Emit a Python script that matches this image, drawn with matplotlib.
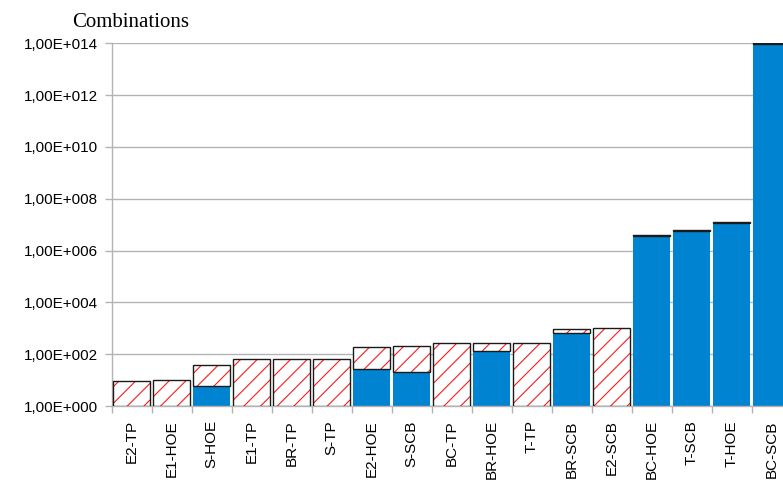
import numpy as np
import matplotlib
matplotlib.use("Agg")
import matplotlib.pyplot as plt
from matplotlib.ticker import FixedLocator, FuncFormatter

# Configurations, ordered by number of combinations
categories = ["E2-TP", "E1-HOE", "S-HOE", "E1-TP", "BR-TP", "S-TP", "E2-HOE",
              "S-SCB", "BC-TP", "BR-HOE", "T-TP", "BR-SCB", "E2-SCB",
              "BC-HOE", "T-SCB", "T-HOE", "BC-SCB"]
# Valid combinations (solid part, 0 = none)
valid = [0, 0, 6, 0, 0, 0, 28, 20, 0, 136, 0, 640, 0,
         3.7e6, 5.7e6, 1.15e7, 9.5e13]
# All combinations (top of the hatched part)
total = [9, 10, 37, 64, 64, 64, 194, 200, 260, 260, 260, 910, 1050,
         4.0e6, 6.1e6, 1.25e7, 1.0e14]
y_ticks = [10.0 ** e for e in range(0, 15, 2)]

valid = np.array(valid, dtype=float)
total = np.array(total, dtype=float)
x = np.arange(len(categories))
bottom = np.where(valid > 0, valid, 1.0)

W, H, DPI = 783, 484, 100
plt.rcParams["font.family"] = ["Liberation Sans", "DejaVu Sans"]
plt.rcParams["hatch.linewidth"] = 0.8

fig = plt.figure(figsize=(W / DPI, H / DPI), dpi=DPI)
left_px, right_px, top_px, bottom_px = 111.7, 791.7, 43.3, 406.0
ax = fig.add_axes([left_px / W, (H - bottom_px) / H,
                   (right_px - left_px) / W, (bottom_px - top_px) / H])

grey = "#b3b3b3"
bw = 0.925

ax.set_yscale("log")
ax.set_ylim(1, 1e14)
ax.set_xlim(-0.5, len(categories) - 0.5)
ax.set_axisbelow(True)
ax.yaxis.grid(True, color=grey, linewidth=1.0)

# solid part
mask = valid > 0
ax.bar(x[mask], valid[mask], width=bw, color="#0084d1", linewidth=0, zorder=2)
# hatched remainder, stacked on top of the solid part
ax.bar(x, total - bottom, bottom=bottom, width=bw, facecolor="white",
       edgecolor="#ff1a1a", hatch="//", linewidth=0, zorder=3)
ax.bar(x, total - bottom, bottom=bottom, width=bw, fill=False,
       edgecolor="#1a1a1a", linewidth=1.0, zorder=4)

for s in ("top", "right"):
    ax.spines[s].set_visible(False)
for s in ("left", "bottom"):
    ax.spines[s].set_color(grey)
    ax.spines[s].set_linewidth(1.0)

ax.yaxis.set_major_locator(FixedLocator(y_ticks))
ax.yaxis.set_minor_locator(FixedLocator([]))
ax.yaxis.set_major_formatter(
    FuncFormatter(lambda v, p: "1,00E+%03d" % int(round(np.log10(v)))))
ax.tick_params(axis="y", which="major", length=5, width=1.0, color=grey,
               pad=5, labelsize=11, labelcolor="black")

ax.set_xticks(x)
ax.set_xticklabels(categories, rotation=90, va="top", ha="center")
ax.set_xticks(np.arange(len(categories) + 1) - 0.5, minor=True)
ax.tick_params(axis="x", which="major", length=0, pad=10.3, labelsize=11,
               labelcolor="black")
ax.tick_params(axis="x", which="minor", length=5, width=1.0, color=grey)

fig.text(71.7 / W, (H - 26.7) / H, "Combinations", family="Liberation Serif",
         fontsize=15, va="baseline", ha="left")

fig.savefig("out.png", dpi=DPI)
